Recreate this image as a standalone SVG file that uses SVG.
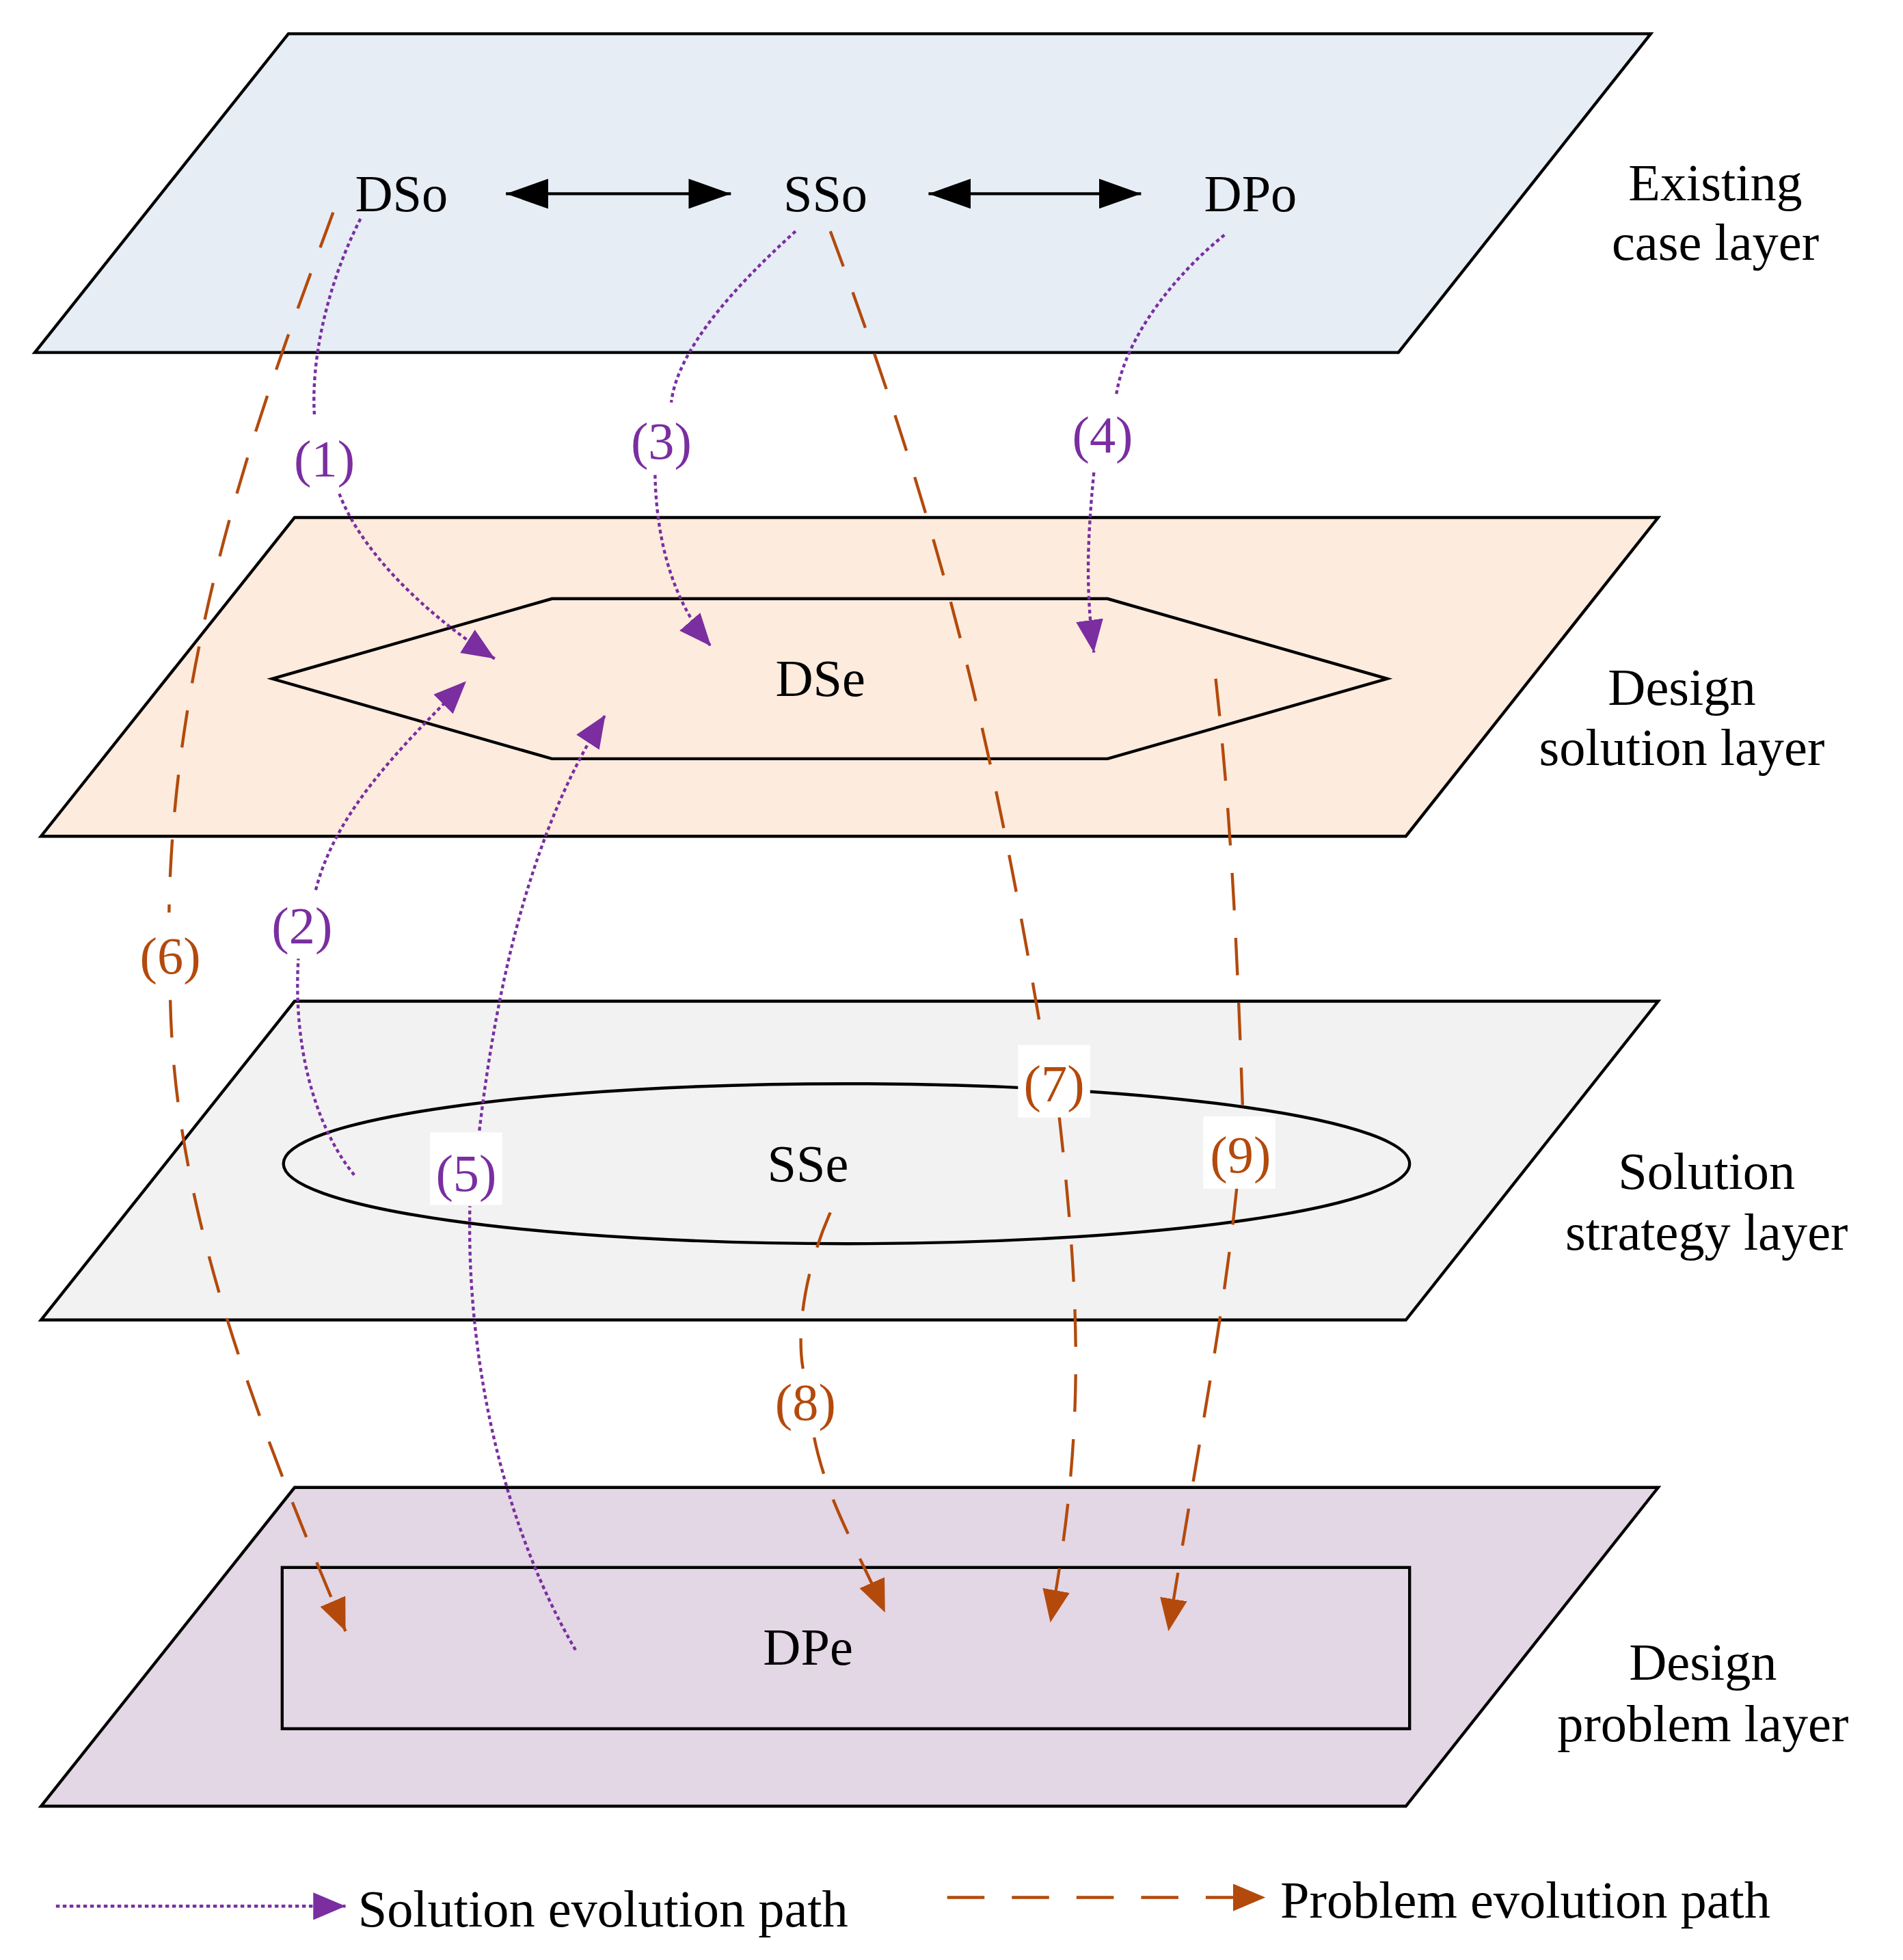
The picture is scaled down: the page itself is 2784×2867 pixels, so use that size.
<svg xmlns="http://www.w3.org/2000/svg" width="2784" height="2867" viewBox="0 0 2784 2867">
<style>
.l{stroke:#000;stroke-width:2.4}
.t{font-family:"Liberation Serif",serif;font-size:42px;fill:#000;text-anchor:middle}
.p{fill:#7a2ea0;font-family:"Liberation Serif",serif;font-size:42px;text-anchor:middle}
.o{fill:#b34a0c;font-family:"Liberation Serif",serif;font-size:42px;text-anchor:middle}
.sp{fill:none;stroke:#7a2ea0;stroke-width:2.4;stroke-dasharray:3 2.5}
.pp{fill:none;stroke:#b34a0c;stroke-width:2.4;stroke-dasharray:30 22}
</style>
<defs>
<marker id="mp" markerUnits="userSpaceOnUse" markerWidth="28" markerHeight="22" refX="26" refY="11" orient="auto"><path d="M0,0 L26,11 L0,22z" fill="#7a2ea0"/></marker>
<marker id="mo" markerUnits="userSpaceOnUse" markerWidth="28" markerHeight="22" refX="26" refY="11" orient="auto"><path d="M0,0 L26,11 L0,22z" fill="#b34a0c"/></marker>
<marker id="mb" markerUnits="userSpaceOnUse" markerWidth="36" markerHeight="24" refX="34" refY="12" orient="auto-start-reverse"><path d="M0,0 L34,12 L0,24z" fill="#000"/></marker>
</defs>
<rect width="2784" height="2867" fill="#fff"/>
<g transform="scale(1.8185 1.8284)">
<g id="layer-existing"><polygon class="l" fill="#e6edf5" points="232,27 1328,27 1125,282 28,282"/>
<text class="t" x="1380" y="160">Existing</text><text class="t" x="1380" y="208">case layer</text></g>
<g id="layer-solution"><polygon class="l" fill="#fdebdd" points="237,414 1334,414 1131,669 33,669"/>
<text class="t" x="1353" y="564">Design</text><text class="t" x="1353" y="612">solution layer</text></g>
<g id="layer-strategy"><polygon class="l" fill="#f2f2f2" points="237,801 1334,801 1131,1056 33,1056"/>
<text class="t" x="1373" y="951">Solution</text><text class="t" x="1373" y="1000">strategy layer</text></g>
<g id="layer-problem"><polygon class="l" fill="#e3d6e5" points="237,1190 1334,1190 1131,1445 33,1445"/>
<text class="t" x="1370" y="1344">Design</text><text class="t" x="1370" y="1393">problem layer</text></g>
<g id="DSo"><text class="t" x="323" y="169">DSo</text></g>
<g id="SSo"><text class="t" x="664" y="169">SSo</text></g>
<g id="DPo"><text class="t" x="1006" y="169">DPo</text></g>
<g id="DSe"><polygon class="l" fill="none" points="219,543 444,479 891,479 1116,543 891,607 444,607"/><text class="t" x="660" y="557">DSe</text></g>
<g id="SSe"><ellipse class="l" fill="none" cx="681" cy="931" rx="453" ry="64"/><text class="t" x="650" y="945">SSe</text></g>
<g id="DPe"><rect class="l" fill="none" x="227" y="1254" width="907" height="129"/><text class="t" x="650" y="1332">DPe</text></g>
<g id="connectors">
<line x1="407" y1="155" x2="588" y2="155" stroke="#000" stroke-width="2.4" marker-start="url(#mb)" marker-end="url(#mb)"/>
<line x1="747" y1="155" x2="918" y2="155" stroke="#000" stroke-width="2.4" marker-start="url(#mb)" marker-end="url(#mb)"/>
<path class="sp" d="M290,175 C262,230 250,290 253,333"/><path class="sp" d="M273,395 C290,440 340,490 398,527" marker-end="url(#mp)"/>
<path class="sp" d="M640,185 C590,230 545,280 540,322"/><path class="sp" d="M527,380 C528,430 540,480 572,517" marker-end="url(#mp)"/>
<path class="sp" d="M985,188 C945,220 905,270 898,316"/><path class="sp" d="M880,378 C875,430 873,470 880,522" marker-end="url(#mp)"/>
<path class="sp" d="M285,940 C260,910 235,850 240,767"/><path class="sp" d="M254,712 C270,650 320,600 375,545" marker-end="url(#mp)"/>
<path class="sp" d="M463,1320 C410,1230 375,1100 378,965"/><path class="sp" d="M385,910 C400,780 430,660 487,572" marker-end="url(#mp)"/>
<path class="pp" d="M268,170 C220,300 140,500 136,730"/><path class="pp" d="M137,800 C140,950 190,1100 278,1305" marker-end="url(#mo)"/>
<path class="pp" d="M668,185 C760,430 800,600 840,840"/><path class="pp" d="M852,892 C870,1050 872,1150 845,1298" marker-end="url(#mo)"/>
<path class="pp" d="M668,970 C650,1010 640,1060 646,1095"/><path class="pp" d="M655,1150 C665,1200 690,1240 712,1290" marker-end="url(#mo)"/>
<path class="pp" d="M978,543 C990,650 995,750 1000,895"/><path class="pp" d="M995,950 C985,1050 965,1150 940,1305" marker-end="url(#mo)"/>
<path class="sp" d="M45,1525 L278,1525" marker-end="url(#mp)"/>
<path class="pp" d="M762,1518 L1018,1518" marker-end="url(#mo)"/>
</g>
<g id="labels">
<text class="p" x="261" y="381">(1)</text>
<text class="p" x="532" y="367">(3)</text>
<text class="p" x="887" y="362">(4)</text>
<text class="p" x="243" y="755">(2)</text>
<text class="o" x="137" y="779">(6)</text>
<rect x="346" y="906" width="58" height="58" fill="#fff"/><text class="p" x="375" y="953">(5)</text>
<rect x="819" y="836" width="58" height="58" fill="#fff"/><text class="o" x="848" y="881">(7)</text>
<rect x="968" y="893" width="58" height="58" fill="#fff"/><text class="o" x="998" y="938">(9)</text>
<text class="o" x="648" y="1136">(8)</text>
<text class="t" x="288" y="1541" style="text-anchor:start">Solution evolution path</text>
<text class="t" x="1030" y="1534" style="text-anchor:start">Problem evolution path</text>
</g>
</g>
</svg>
